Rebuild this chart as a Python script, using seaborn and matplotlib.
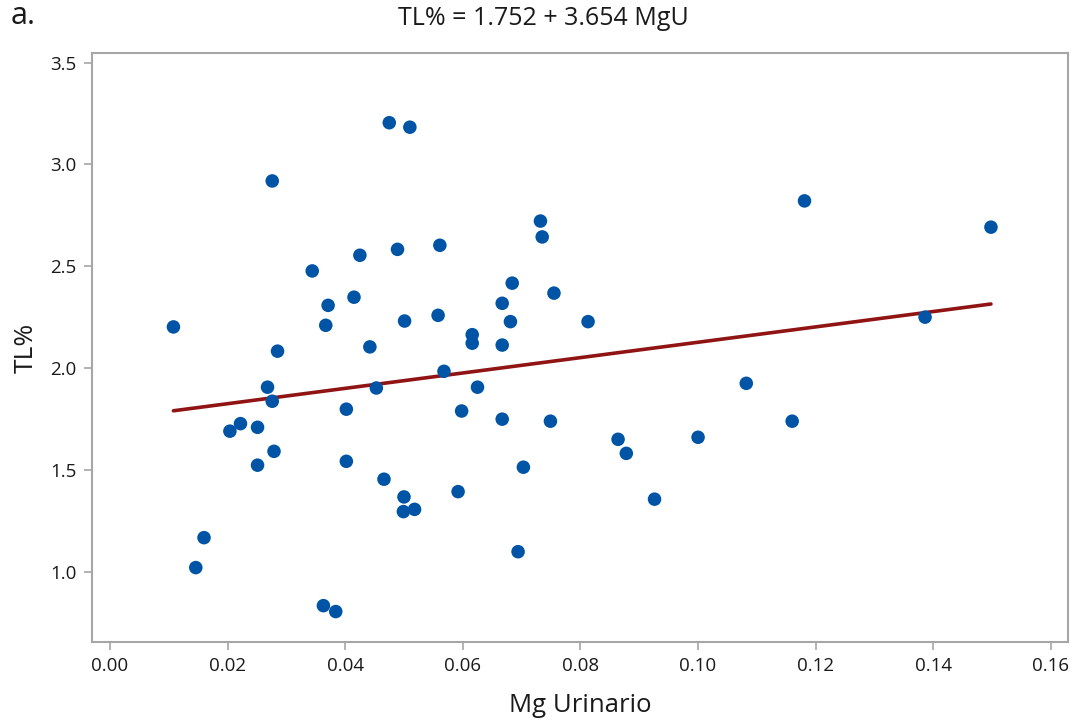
"""
Scatter of TL% vs urinary Mg with fitted regression line.
"""

import matplotlib
matplotlib.use("Agg")
import matplotlib.pyplot as plt
import seaborn as sns
import pandas as pd

# values
mg_urinario = [
    0.0108, 0.0146, 0.0160, 0.0204, 0.0222, 0.0251, 0.0251, 0.0268, 0.0276, 0.0276,
    0.0279, 0.0285, 0.0344, 0.0363, 0.0367, 0.0371, 0.0384, 0.0402, 0.0402, 0.0415,
    0.0425, 0.0442, 0.0453, 0.0466, 0.0475, 0.0489, 0.0499, 0.0500, 0.0501, 0.0510,
    0.0518, 0.0558, 0.0561, 0.0568, 0.0592, 0.0598, 0.0616, 0.0616, 0.0625, 0.0667,
    0.0667, 0.0667, 0.0681, 0.0684, 0.0694, 0.0703, 0.0732, 0.0735, 0.0749, 0.0755,
    0.0813, 0.0864, 0.0878, 0.0926, 0.1000, 0.1082, 0.1160, 0.1181, 0.1386, 0.1498,
]
tl_pct = [
    2.202, 1.020, 1.167, 1.690, 1.727, 1.709, 1.523, 1.906, 2.919, 1.837,
    1.591, 2.083, 2.477, 0.833, 2.210, 2.308, 0.804, 1.798, 1.542, 2.348,
    2.554, 2.104, 1.902, 1.454, 3.205, 2.583, 1.295, 1.367, 2.231, 3.183,
    1.306, 2.259, 2.603, 1.984, 1.393, 1.789, 2.164, 2.122, 1.906, 2.318,
    2.113, 1.749, 2.228, 2.417, 1.098, 1.513, 2.722, 2.644, 1.739, 2.368,
    2.228, 1.650, 1.581, 1.356, 1.660, 1.925, 1.739, 2.821, 2.250, 2.692,
]
x_ticks = [0.00, 0.02, 0.04, 0.06, 0.08, 0.10, 0.12, 0.14, 0.16]
y_ticks = [1.0, 1.5, 2.0, 2.5, 3.0, 3.5]

df = pd.DataFrame({"MgU": mg_urinario, "TL": tl_pct})

sns.set_style("white")
plt.rcParams["font.family"] = ["Open Sans", "DejaVu Sans"]

POINT = "#0054a6"
LINE = "#901414"
FRAME = "#a6a6a6"
TEXT = "#1a1a1a"

fig = plt.figure(figsize=(10.71, 7.25), dpi=100)
ax = fig.add_axes([0.0856, 0.1149, 0.9116, 0.8116])

sns.regplot(
    data=df,
    x="MgU",
    y="TL",
    ci=None,
    truncate=True,
    ax=ax,
    scatter_kws={"s": 95, "color": POINT, "edgecolor": "none", "alpha": 1, "zorder": 3},
    line_kws={"color": LINE, "linewidth": 2.6, "zorder": 2},
)

ax.set_xlim(-0.0031, 0.1629)
ax.set_ylim(0.656, 3.546)
ax.set_xticks(x_ticks)
ax.set_xticklabels([f"{v:.2f}" for v in x_ticks])
ax.set_yticks(y_ticks)
ax.set_yticklabels([f"{v:.1f}" for v in y_ticks])

for s in ax.spines.values():
    s.set_color(FRAME)
    s.set_linewidth(1.5)

ax.tick_params(
    axis="both",
    direction="out",
    length=6,
    width=1.2,
    color=FRAME,
    labelsize=13.5,
    labelcolor=TEXT,
    bottom=True,
    left=True,
    pad=5,
)

ax.set_xlabel("Mg Urinario", fontsize=18.5, color=TEXT, labelpad=13)
ax.set_ylabel("TL%", fontsize=19, color=TEXT, labelpad=8)

fig.text(0.507, 0.974, "TL% = 1.752 + 3.654 MgU", ha="center", va="center",
         fontsize=18, color=TEXT)
fig.text(0.010, 0.978, "a.", ha="left", va="center", fontsize=22, color=TEXT)

fig.savefig("out.png", dpi=100)
plt.close(fig)
